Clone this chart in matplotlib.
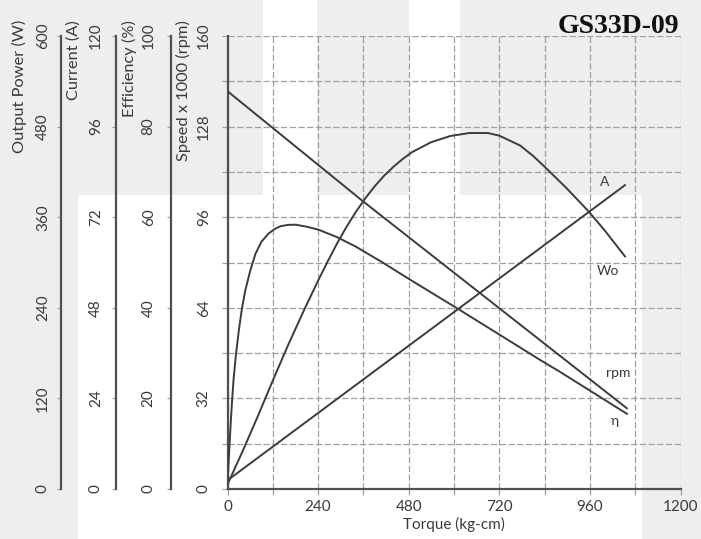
import matplotlib
matplotlib.use("Agg")
import matplotlib.pyplot as plt
from matplotlib.patches import Rectangle

# --- data (torque in kg-cm) ---
torque_rpm = [0, 360, 1058]
speed_krpm = [140.5, 101.5, 28.5]

torque_amp = [0, 1053]
current_a = [2.3, 80.5]

torque_eff = [0, 4, 8, 12, 16, 22, 30, 38, 47, 60, 74, 90, 109, 125, 140, 160, 180, 210,
              241, 290, 340, 409, 480, 606, 720, 828, 880, 1058]
efficiency = [1.3, 7.5, 13.8, 19.4, 24.1, 29.4, 35, 39.7, 43.8, 48.1, 51.9, 54.6, 56.4, 57.4, 58, 58.3, 58.35, 57.9,
              57.25, 55.6, 53.5, 50.1, 46.4, 40, 34.1, 28.5, 25.9, 16.6]

torque_wo = [0, 40, 80, 122, 160, 200, 240, 265, 290, 315, 340, 365, 390, 415, 440, 465, 490, 540, 590,
             640, 690, 720, 775, 810, 846, 899, 956, 1000, 1053]
power_w = [6, 50, 96, 146, 190, 234, 276, 301, 325, 347, 367, 385, 401, 415, 427, 437.5, 446.5, 459.5, 467.5,
           471.5, 471.5, 468, 455, 441, 424, 398, 368, 342, 308]

x_major = list(range(0, 1201, 240))
x_minor = list(range(0, 1201, 120))
speed_ticks = list(range(0, 161, 32))
speed_minor = list(range(0, 161, 16))
eff_ticks = list(range(0, 101, 20))
amp_ticks = list(range(0, 121, 24))
pow_ticks = list(range(0, 601, 120))

curve_labels = [("A", 1000, 108.5), ("Wo", 1008, 77), ("rpm", 1034, 41), ("\u03b7", 1026, 24)]

FONT = ["Lato", "DejaVu Sans"]
plt.rcParams["font.family"] = FONT
W, H = 701, 539
FS = 11
ink = "#3c3c3c"
spine_c = "#505050"
grid_c = "#a0a0a0"
txt_c = "#3a3a3a"

fig = plt.figure(figsize=(W / 100, H / 100), dpi=100)
fig.patch.set_facecolor("#eeeeee")
# scanned-sheet background: white blocks behind most of the chart
fig.patches.append(Rectangle((78 / W, 0), (642 - 78) / W, 1 - 195 / H,
                             transform=fig.transFigure, fc="white", ec="none", zorder=-10))
fig.patches.append(Rectangle((263 / W, 1 - 195 / H), 54 / W, 195 / H,
                             transform=fig.transFigure, fc="white", ec="none", zorder=-10))
fig.patches.append(Rectangle((409 / W, 1 - 195 / H), 51 / W, 195 / H,
                             transform=fig.transFigure, fc="white", ec="none", zorder=-10))

L, R, T, B = 227.5, 680.5, 36, 489
ax = fig.add_axes([L / W, 1 - B / H, (R - L) / W, (B - T) / H])
ax.set_facecolor("none")
ax.set_xlim(0, 1200)
ax.set_ylim(0, 160)
ax.set_xticks(x_major)
ax.set_xticks(x_minor, minor=True)
ax.set_yticks(speed_ticks)
ax.set_yticks(speed_minor, minor=True)
ax.grid(True, which="both", color=grid_c, linestyle=(0, (5, 2)), linewidth=0.9)
ax.set_axisbelow(True)
for s in ("top", "right"):
    ax.spines[s].set_visible(False)
for s in ("left", "bottom"):
    ax.spines[s].set_color(spine_c)
    ax.spines[s].set_linewidth(1.6)
ax.tick_params(axis="both", which="both", direction="out", length=4, color=grid_c, width=0.9)
ax.tick_params(axis="y", labelsize=FS, labelcolor=txt_c, pad=8)
ax.tick_params(axis="x", labelsize=FS, labelcolor=txt_c, pad=4)
for lab in ax.get_yticklabels():
    lab.set_rotation(90)
    lab.set_va("center")
ax.set_xlabel("Torque (kg-cm)", fontsize=FS, color=txt_c, labelpad=2)

ax.plot(torque_rpm, speed_krpm, color=ink, lw=1.4, zorder=5)


def side_axis(offset, top, ticks, pad):
    a = ax.twinx()
    a.set_ylim(0, top)
    a.set_yticks(ticks)
    a.spines["right"].set_visible(False)
    a.spines["top"].set_visible(False)
    a.spines["bottom"].set_visible(False)
    a.spines["left"].set_visible(True)
    a.spines["left"].set_position(("axes", offset))
    a.spines["left"].set_color(spine_c)
    a.spines["left"].set_linewidth(1.6)
    a.yaxis.set_ticks_position("left")
    a.yaxis.set_label_position("left")
    a.tick_params(axis="y", direction="out", length=3, color=grid_c, width=0.9,
                  labelsize=FS, labelcolor=txt_c, pad=pad)
    for lab in a.get_yticklabels():
        lab.set_rotation(90)
        lab.set_va("center")
    return a


ax_eff = side_axis(-(L - 171) / (R - L), 100, eff_ticks, 8)
ax_amp = side_axis(-(L - 116) / (R - L), 120, amp_ticks, 6.5)
ax_pow = side_axis(-(L - 61) / (R - L), 600, pow_ticks, 5)

ax_eff.plot(torque_eff, efficiency, color=ink, lw=1.4, zorder=5)
ax_amp.plot(torque_amp, current_a, color=ink, lw=1.4, zorder=5)
ax_pow.plot(torque_wo, power_w, color=ink, lw=1.4, zorder=5)

# axis titles, rotated, hanging from the top
for xpx, label in [(19, "Output Power (W)"), (74, "Current (A)"),
                   (129, "Efficiency (%)"), (183, "Speed x 1000 (rpm)")]:
    fig.text(xpx / W, 1 - 20 / H, label, rotation=90, ha="center", va="top",
             fontsize=11.8, color=txt_c)

for name, tx, ty in curve_labels:
    ax.text(tx, ty, name, fontsize=10, color=txt_c, ha="center", va="center", zorder=6)

fig.text(679 / W, 1 - 33 / H, "GS33D-09", ha="right", va="baseline",
         fontsize=20, fontweight="bold", family="Liberation Serif", color="#111111")

fig.savefig("out.png", dpi=100, facecolor=fig.get_facecolor())
